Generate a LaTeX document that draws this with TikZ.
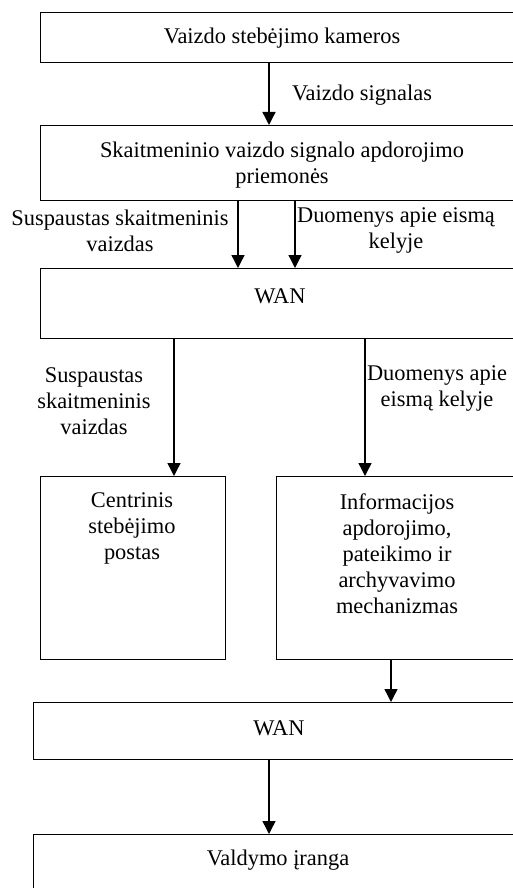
\documentclass[tikz,border=0pt]{standalone}
\usepackage{fontspec}
\setmainfont{Liberation Serif}
\usetikzlibrary{arrows.meta}
\begin{document}
\begin{tikzpicture}[x=1pt,y=-1pt,
  box/.style={draw, line width=1.4pt, inner sep=0pt, anchor=north west},
  txt/.style={font=\fontsize{22.4}{26}\selectfont, align=center, inner sep=0pt},
  arr/.style={line width=1.4pt, -{Triangle[width=13pt,length=13pt]}}]
\useasboundingbox (0,0) rectangle (513,888);
\clip (0,0) rectangle (513,888);
% boxes
\node[box, minimum width=500, minimum height=50] (b1) at (40,12) {};
\node[box, minimum width=500, minimum height=75] (b2) at (40,125) {};
\node[box, minimum width=500, minimum height=70] (w1) at (40,268) {};
\node[box, minimum width=185, minimum height=183] (c1) at (40,476) {};
\node[box, minimum width=260, minimum height=183] (i1) at (276,476) {};
\node[box, minimum width=500, minimum height=57] (w2) at (33,702) {};
\node[box, minimum width=500, minimum height=80] (v1) at (33,834) {};
% texts
\node[txt] (t1) at (282,38) {Vaizdo stebėjimo kameros};
\node[txt] (t2) at (282,165) {Skaitmeninio vaizdo signalo apdorojimo\\priemonės};
\node[txt] (t3) at (280,296) {WAN};
\node[txt] (t4) at (132,528) {Centrinis\\stebėjimo\\postas};
\node[txt] (t5) at (397,554) {Informacijos\\apdorojimo,\\pateikimo ir\\archyvavimo\\mechanizmas};
\node[txt] (t6) at (279,728) {WAN};
\node[txt] (t7) at (278,860) {Valdymo įranga};
% labels
\node[txt] (l1) at (362,95) {Vaizdo signalas};
\node[txt] (l2) at (120,231) {Suspaustas skaitmeninis\\vaizdas};
\node[txt] (l3) at (396,231) {Duomenys apie eismą\\kelyje};
\node[txt] (l4) at (94,401) {Suspaustas\\skaitmeninis\\vaizdas};
\node[txt] (l5) at (437,388) {Duomenys apie\\eismą kelyje};
% connectors
\draw[arr] (269,0 |- b1.south) -- (269,0 |- b2.north);
\draw[arr] (238,0 |- b2.south) -- (238,0 |- w1.north);
\draw[arr] (295,0 |- b2.south) -- (295,0 |- w1.north);
\draw[arr] (174,0 |- w1.south) -- (174,0 |- c1.north);
\draw[arr] (365,0 |- w1.south) -- (365,0 |- i1.north);
\draw[arr] (391,0 |- i1.south) -- (391,0 |- w2.north);
\draw[arr] (269,0 |- w2.south) -- (269,0 |- v1.north);
\end{tikzpicture}
\end{document}
